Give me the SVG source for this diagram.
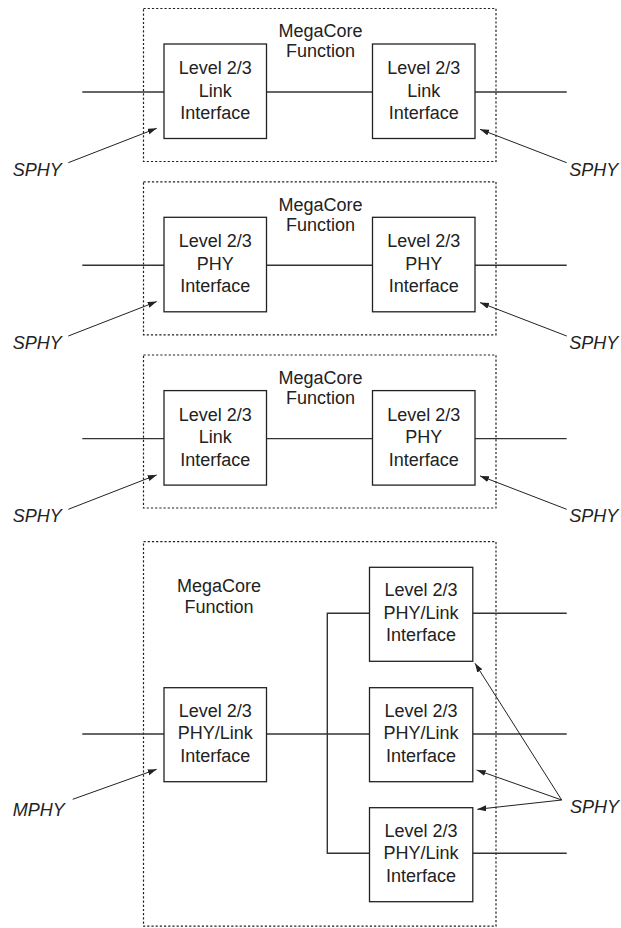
<svg xmlns="http://www.w3.org/2000/svg" width="621" height="928" viewBox="0 0 621 928">
<style>
.frame{fill:none;stroke:#222;stroke-width:1.2;stroke-dasharray:2.2 2}
.box{fill:#fff;stroke:#222;stroke-width:1.3}
.ln{fill:none;stroke:#333;stroke-width:1.4}
.ar{fill:none;stroke:#222;stroke-width:1;marker-end:url(#ah)}
text{font-family:"Liberation Sans",Arial,sans-serif;font-size:18px;fill:#222}
.c{text-anchor:middle}
.i{font-style:italic}
</style>
<defs>
<marker id="ah" markerUnits="userSpaceOnUse" markerWidth="10" markerHeight="8" refX="9" refY="3" orient="auto">
<path d="M0,0 L9,3 L0,6 z" fill="#222"/>
</marker>
</defs>
<rect width="621" height="928" fill="#fff"/>

<g id="frames">
<rect class="frame" x="143.5" y="8.5" width="352.5" height="153"/>
<rect class="frame" x="143.5" y="181.8" width="352.5" height="153"/>
<rect class="frame" x="143.5" y="355" width="352.5" height="153"/>
<rect class="frame" x="143.5" y="541.7" width="352.5" height="384.5"/>
</g>

<g id="connectors">
<!-- panel 1 -->
<line class="ln" x1="82.3" y1="92" x2="164" y2="92"/>
<line class="ln" x1="266.5" y1="92" x2="372.5" y2="92"/>
<line class="ln" x1="475" y1="92" x2="566.7" y2="92"/>
<line class="ar" x1="68.3" y1="162.7" x2="156.7" y2="128.3"/>
<line class="ar" x1="566.7" y1="162.7" x2="480" y2="129.3"/>
<!-- panel 2 -->
<line class="ln" x1="82.3" y1="265.3" x2="164" y2="265.3"/>
<line class="ln" x1="266.5" y1="265.3" x2="372.5" y2="265.3"/>
<line class="ln" x1="475" y1="265.3" x2="566.7" y2="265.3"/>
<line class="ar" x1="68.3" y1="336" x2="156.7" y2="301.6"/>
<line class="ar" x1="566.7" y1="336" x2="480" y2="302.6"/>
<!-- panel 3 -->
<line class="ln" x1="82.3" y1="438.6" x2="164" y2="438.6"/>
<line class="ln" x1="266.5" y1="438.6" x2="372.5" y2="438.6"/>
<line class="ln" x1="475" y1="438.6" x2="566.7" y2="438.6"/>
<line class="ar" x1="68.3" y1="509.3" x2="156.7" y2="474.9"/>
<line class="ar" x1="566.7" y1="509.3" x2="480" y2="475.9"/>
<!-- panel 4 -->
<line class="ln" x1="82.3" y1="734" x2="164" y2="734"/>
<line class="ln" x1="266.5" y1="734" x2="369.5" y2="734"/>
<polyline class="ln" points="369.5,613.3 327.3,613.3 327.3,853.3 369.5,853.3"/>
<line class="ln" x1="472.8" y1="613.3" x2="566.7" y2="613.3"/>
<line class="ln" x1="472.8" y1="734" x2="566.7" y2="734"/>
<line class="ln" x1="472.8" y1="853.3" x2="566.7" y2="853.3"/>
<line class="ar" x1="72.7" y1="799.3" x2="156.7" y2="769.3"/>
<line class="ar" x1="561.7" y1="800" x2="475" y2="663.3"/>
<line class="ar" x1="561.7" y1="800" x2="476.7" y2="770"/>
<line class="ar" x1="561.7" y1="800" x2="477.3" y2="809.3"/>
</g>

<g id="labels">
<text class="c" x="320.5" y="37.3">MegaCore</text>
<text class="c" x="320.5" y="57.3">Function</text>
<text class="i" x="12.7" y="175.7">SPHY</text>
<text class="i" x="569.3" y="175.7">SPHY</text>
<text class="c" x="320.5" y="210.6">MegaCore</text>
<text class="c" x="320.5" y="230.6">Function</text>
<text class="i" x="12.7" y="349">SPHY</text>
<text class="i" x="569.3" y="349">SPHY</text>
<text class="c" x="320.5" y="383.9">MegaCore</text>
<text class="c" x="320.5" y="403.9">Function</text>
<text class="i" x="12.7" y="522.3">SPHY</text>
<text class="i" x="569.3" y="522.3">SPHY</text>
<text class="c" x="219" y="591.7">MegaCore</text>
<text class="c" x="219" y="613.3">Function</text>
<text class="i" x="12.7" y="816">MPHY</text>
<text class="i" x="570" y="813">SPHY</text>
</g>

<g id="n1a">
<rect class="box" x="164" y="44" width="102.5" height="94.5"/>
<text class="c" x="215.3" y="74">Level 2/3</text>
<text class="c" x="215.3" y="96.5">Link</text>
<text class="c" x="215.3" y="119">Interface</text>
</g>
<g id="n1b">
<rect class="box" x="372.5" y="44" width="102.5" height="94.5"/>
<text class="c" x="423.7" y="74">Level 2/3</text>
<text class="c" x="423.7" y="96.5">Link</text>
<text class="c" x="423.7" y="119">Interface</text>
</g>

<g id="n2a">
<rect class="box" x="164" y="217.3" width="102.5" height="94.5"/>
<text class="c" x="215.3" y="247.3">Level 2/3</text>
<text class="c" x="215.3" y="269.8">PHY</text>
<text class="c" x="215.3" y="292.3">Interface</text>
</g>
<g id="n2b">
<rect class="box" x="372.5" y="217.3" width="102.5" height="94.5"/>
<text class="c" x="423.7" y="247.3">Level 2/3</text>
<text class="c" x="423.7" y="269.8">PHY</text>
<text class="c" x="423.7" y="292.3">Interface</text>
</g>

<g id="n3a">
<rect class="box" x="164" y="390.6" width="102.5" height="94.5"/>
<text class="c" x="215.3" y="420.6">Level 2/3</text>
<text class="c" x="215.3" y="443.1">Link</text>
<text class="c" x="215.3" y="465.6">Interface</text>
</g>
<g id="n3b">
<rect class="box" x="372.5" y="390.6" width="102.5" height="94.5"/>
<text class="c" x="423.7" y="420.6">Level 2/3</text>
<text class="c" x="423.7" y="443.1">PHY</text>
<text class="c" x="423.7" y="465.6">Interface</text>
</g>

<g id="n4a">
<rect class="box" x="164" y="687.7" width="102.5" height="94"/>
<text class="c" x="215.3" y="716.7">Level 2/3</text>
<text class="c" x="215.3" y="739.2">PHY/Link</text>
<text class="c" x="215.3" y="761.7">Interface</text>
</g>
<g id="n4b">
<rect class="box" x="369.5" y="567.3" width="103.3" height="94"/>
<text class="c" x="421.1" y="596.3">Level 2/3</text>
<text class="c" x="421.1" y="618.8">PHY/Link</text>
<text class="c" x="421.1" y="641.3">Interface</text>
</g>
<g id="n4c">
<rect class="box" x="369.5" y="687.7" width="103.3" height="94"/>
<text class="c" x="421.1" y="716.7">Level 2/3</text>
<text class="c" x="421.1" y="739.2">PHY/Link</text>
<text class="c" x="421.1" y="761.7">Interface</text>
</g>
<g id="n4d">
<rect class="box" x="369.5" y="807.7" width="103.3" height="94"/>
<text class="c" x="421.1" y="836.7">Level 2/3</text>
<text class="c" x="421.1" y="859.2">PHY/Link</text>
<text class="c" x="421.1" y="881.7">Interface</text>
</g>
</svg>
